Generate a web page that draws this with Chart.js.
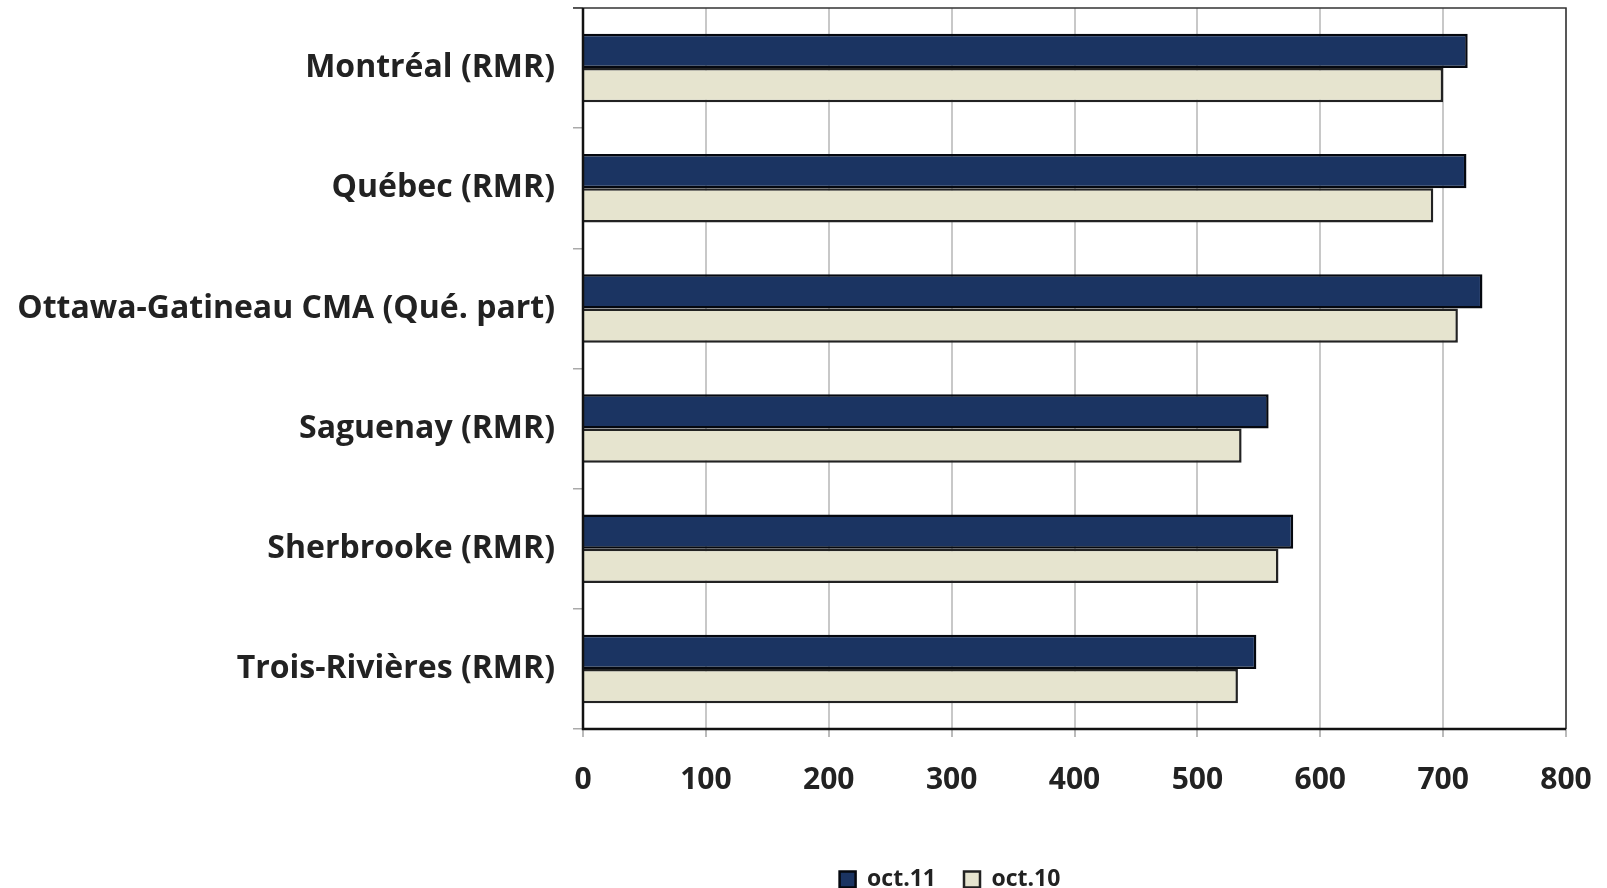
<!DOCTYPE html>
<html>
<head>
<meta charset="utf-8">
<script src="https://cdn.jsdelivr.net/npm/chart.js@4/dist/chart.umd.min.js"></script>
<style>
  html, body { margin: 0; padding: 0; background: #fff; }
  #wrap { width: 1607px; height: 888px; position: relative; }
</style>
</head>
<body>
<div id="wrap"><canvas id="chart"></canvas></div>
<script>
  var categories = ['Montréal (RMR)', 'Québec (RMR)', 'Ottawa-Gatineau CMA (Qué. part)',
    'Saguenay (RMR)', 'Sherbrooke (RMR)', 'Trois-Rivières (RMR)'];
  var oct11 = [720, 719, 732, 558, 578, 548];
  var oct10 = [700, 692, 712, 536, 566, 533];
  var xTicks = [0, 100, 200, 300, 400, 500, 600, 700, 800];

  // frame round the plot area, like the original
  var frame = {
    id: 'frame',
    afterDraw: function (chart) {
      var a = chart.chartArea, ctx = chart.ctx;
      ctx.save();
      ctx.strokeStyle = '#333';
      ctx.lineWidth = 1.5;
      ctx.beginPath();
      ctx.moveTo(a.left - 10, a.top);
      ctx.lineTo(a.right, a.top);
      ctx.lineTo(a.right, a.bottom);
      ctx.stroke();
      ctx.strokeStyle = '#111';
      ctx.lineWidth = 2.5;
      ctx.beginPath();
      ctx.moveTo(a.left, a.top);
      ctx.lineTo(a.left, a.bottom);
      ctx.lineTo(a.right, a.bottom);
      ctx.stroke();
      ctx.restore();
    }
  };

  // the original legend sits a bit right of centre
  var legendShift = {
    id: 'legendShift',
    afterLayout: function (chart) {
      var lg = chart.legend;
      if (!lg) return;
      var dx = 950 - (lg.left + lg.right) / 2;
      lg.left += dx;
      lg.right += dx;
    }
  };

  var font = '"Open Sans", Lato, "DejaVu Sans", sans-serif';

  new Chart(document.getElementById('chart').getContext('2d'), {
    type: 'bar',
    data: {
      labels: categories,
      datasets: [{
        label: 'oct.11',
        data: oct11,
        backgroundColor: '#1b3462',
        borderColor: '#05080f',
        borderWidth: 2.5,
        categoryPercentage: 0.57,
        barPercentage: 1.0
      }, {
        label: 'oct.10',
        data: oct10,
        backgroundColor: '#e6e4cf',
        borderColor: '#222',
        borderWidth: 2.5,
        categoryPercentage: 0.57,
        barPercentage: 1.0
      }]
    },
    options: {
      indexAxis: 'y',
      responsive: true,
      maintainAspectRatio: false,
      animation: false,
      layout: { padding: { top: 8, right: 41, left: 0, bottom: -13 } },
      scales: {
        x: {
          min: 0,
          max: 800,
          afterBuildTicks: function (s) {
            s.ticks = xTicks.map(function (v) { return { value: v }; });
          },
          grid: { color: '#c8c8c8', lineWidth: 2, tickLength: 8, tickColor: '#bbb' },
          border: { display: false },
          ticks: {
            padding: 25,
            color: '#222',
            font: { family: font, size: 30, weight: 'bold' }
          },
          afterFit: function (s) {
            s.height = 111;
            s.paddingLeft = 0;
            s.paddingRight = 0;
          }
        },
        y: {
          grid: { drawOnChartArea: false, tickLength: 10, tickColor: '#aaa', lineWidth: 1.5, offset: true },
          border: { display: false },
          ticks: {
            padding: 18,
            color: '#222',
            font: { family: font, size: 32, weight: 'bold' }
          },
          afterFit: function (s) {
            s.width = 583;
            s.paddingTop = 0;
            s.paddingBottom = 0;
          }
        }
      },
      plugins: {
        legend: {
          position: 'bottom',
          labels: {
            boxWidth: 16,
            boxHeight: 16,
            padding: 28,
            color: '#222',
            font: { family: font, size: 23, weight: 'bold' }
          }
        },
        tooltip: { enabled: false }
      }
    },
    plugins: [frame, legendShift]
  });
</script>
</body>
</html>
